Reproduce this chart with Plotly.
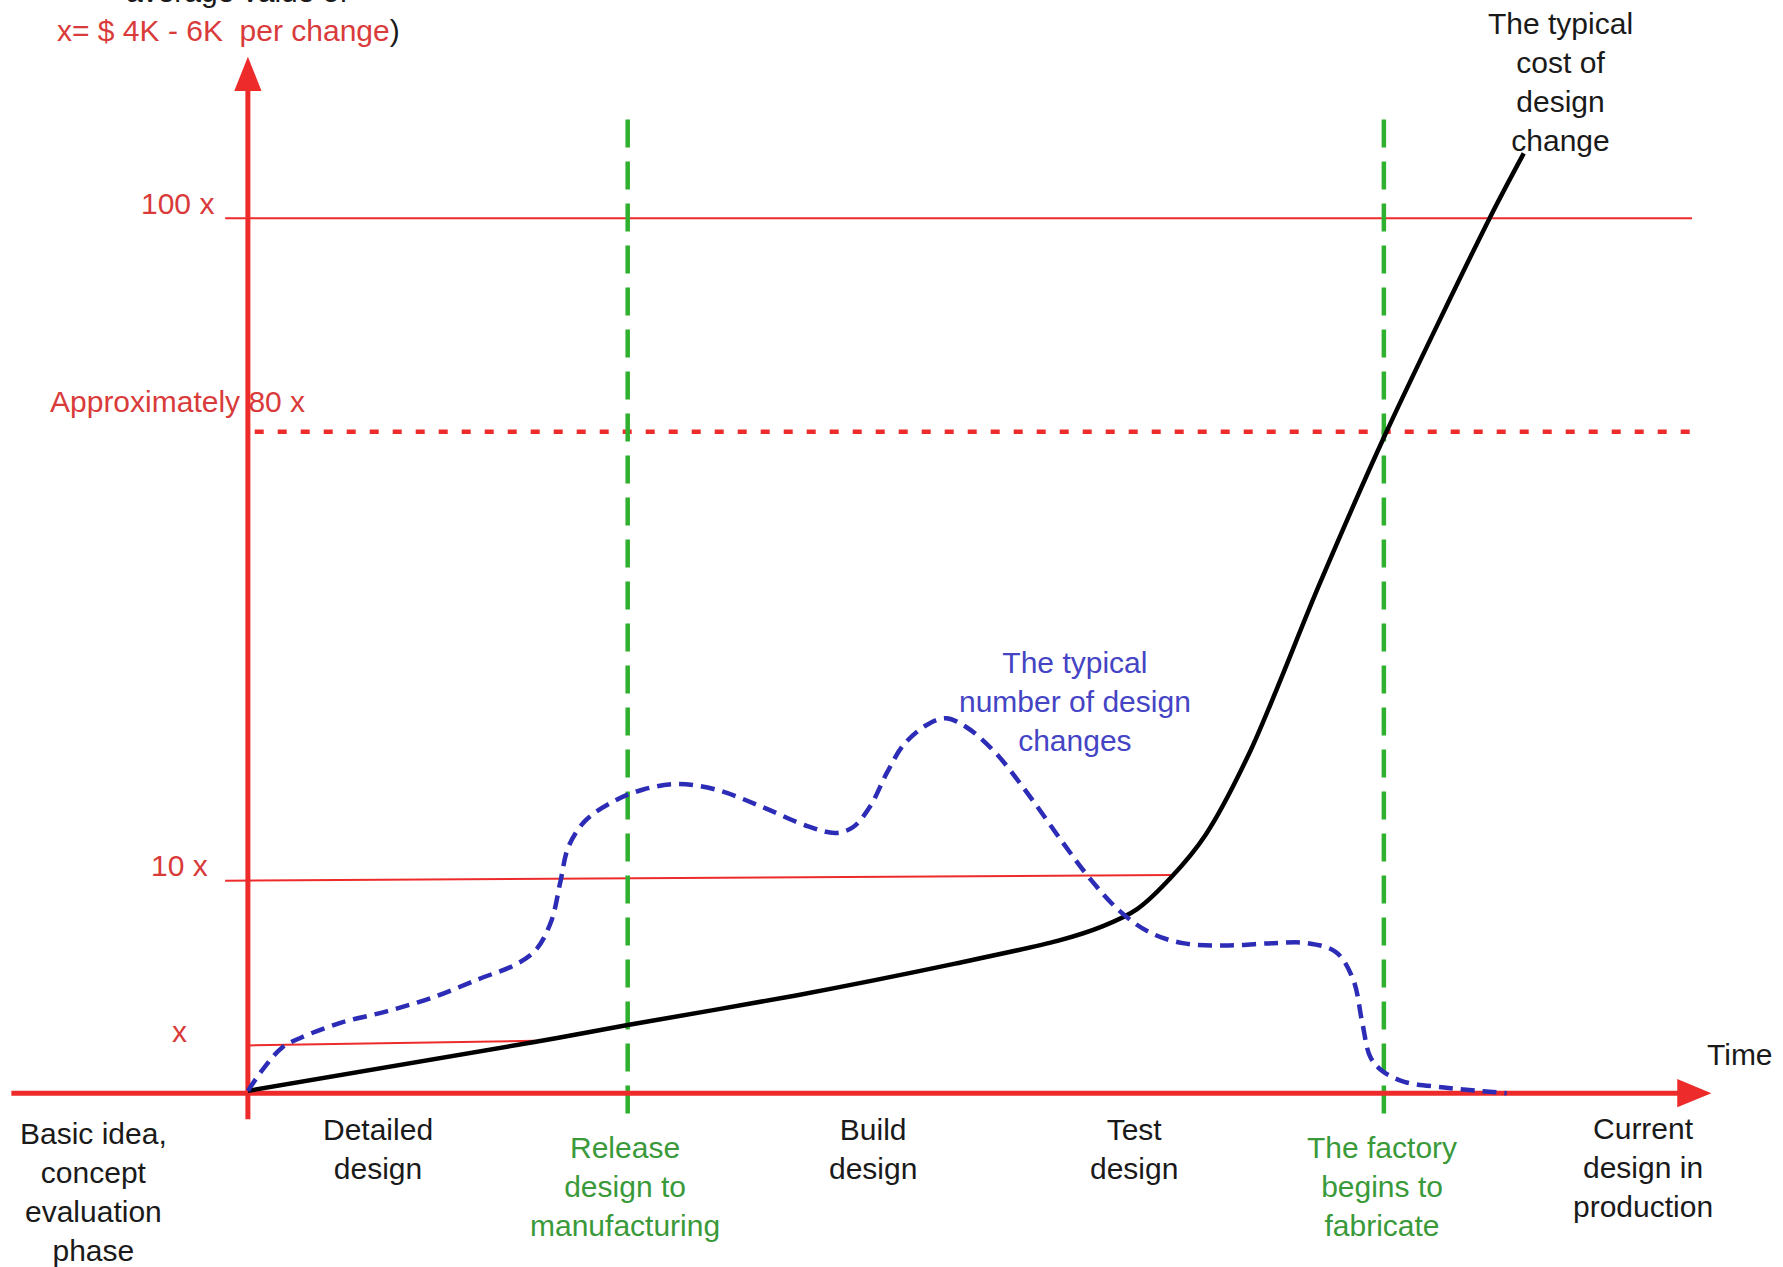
import plotly.graph_objects as go

# ---------------- data (schematic units: time t, height v) ----------------
# Typical cost of design change (black curve)
cost_t = [0, 25.2, 33.4, 48.2, 62.2, 71.2, 75.2, 78.2, 81.2, 84.2, 88.2, 94.2, 99.9, 109.2, 112.2]
cost_v = [0.2, 4.5, 6.0, 8.6, 11.4, 13.4, 14.7, 16.2, 19.0, 22.7, 30.2, 44.7, 57.7, 77.0, 82.7]

# Typical number of design changes (blue dashed curve)
changes_t = [0, 1.4, 3.0, 4.7, 8.2, 12.2, 16.2, 20.2, 23.7, 25.4, 26.7, 27.5, 28.2, 29.7, 32.2,
             34.7, 37.7, 41.2, 45.2, 49.2, 51.7, 53.2, 54.7, 56.2, 57.7, 59.7, 61.4, 63.2, 65.7,
             68.7, 71.7, 74.2, 76.7, 79.2, 82.2, 86.2, 90.2, 93.2, 95.7, 97.2, 98.0, 98.7, 99.7,
             101.7, 105.2, 108.2, 110.7]
changes_v = [0.2, 2.2, 4.0, 4.9, 6.2, 7.2, 8.4, 10.0, 11.4, 12.7, 15.2, 18.7, 21.7, 24.0, 25.7,
             26.7, 27.2, 26.7, 25.2, 23.5, 22.9, 23.4, 25.2, 28.2, 30.7, 32.4, 33.0, 32.2, 30.0,
             26.2, 22.0, 18.7, 16.0, 14.2, 13.2, 13.0, 13.2, 13.2, 12.4, 10.0, 6.2, 3.2, 2.0,
             1.0, 0.5, 0.2, 0.0]

# Cost reference levels
level_labels = ["100 x", "10 x", "x"]
level_v_start = [77.0, 18.7, 4.2]
level_v_end = [77.0, 19.2, 4.6]
level_t_start = [-2.0, -2.0, 0.0]
level_t_end = [127.0, 81.2, 25.2]
level_label_t = [-2.8, -3.3, -6.0]
level_label_v = [78.3, 20.0, 5.4]

approx_label = "Approximately 80 x"
approx_v = 58.2

# Milestones (green dashed verticals)
milestone_t = [33.4, 99.9]
milestone_labels = ["Release<br>design to<br>manufacturing", "The factory<br>begins to<br>fabricate"]

# Phase labels under the time axis
phase_labels = ["Basic idea,<br>concept<br>evaluation<br>phase", "Detailed<br>design",
                "Build<br>design", "Test<br>design", "Current<br>design in<br>production"]
phase_t = [-13.6, 11.4, 55.0, 77.9, 122.7]
phase_v = [-8.7, -4.95, -4.95, -4.95, -6.55]

# ---------------- styling ----------------
RED = "#ee2b2b"
RED_TXT = "#d93b3b"
GREEN = "#2fb02f"
GREEN_TXT = "#3a9a3a"
BLUE = "#2c2cb6"
BLUE_TXT = "#4444c4"
FONT = "Liberation Sans, Arial, Helvetica, sans-serif"
FS = 30

X_MIN, X_MAX = -21.8, 135.0
Y_MIN, Y_MAX = -15.3, 96.2

fig = go.Figure()

# thin red level lines
for vs, ve, ts, te in zip(level_v_start, level_v_end, level_t_start, level_t_end):
    fig.add_trace(go.Scatter(x=[ts, te], y=[vs, ve], mode="lines",
                             line=dict(color=RED, width=2), hoverinfo="skip"))

# dotted 80x line
fig.add_trace(go.Scatter(x=[0.6, 127.0], y=[approx_v, approx_v], mode="lines",
                         line=dict(color=RED, width=4.5, dash="9px,14px"), hoverinfo="skip"))

# green milestone lines
for t in milestone_t:
    fig.add_trace(go.Scatter(x=[t, t], y=[-1.8, 85.7], mode="lines",
                             line=dict(color=GREEN, width=4.5, dash="28px,14px"), hoverinfo="skip"))

# axes
fig.add_trace(go.Scatter(x=[-20.8, 126.0], y=[0, 0], mode="lines",
                         line=dict(color=RED, width=5), hoverinfo="skip"))
fig.add_trace(go.Scatter(x=[0, 0], y=[-2.3, 88.5], mode="lines",
                         line=dict(color=RED, width=5), hoverinfo="skip"))

# cost curve
fig.add_trace(go.Scatter(x=cost_t, y=cost_v, mode="lines",
                         line=dict(color="black", width=4.5, shape="spline", smoothing=0.8),
                         hoverinfo="skip"))

# number of changes curve
fig.add_trace(go.Scatter(x=changes_t, y=changes_v, mode="lines",
                         line=dict(color=BLUE, width=4.5, shape="spline", smoothing=1.0,
                                   dash="14px,8px"),
                         hoverinfo="skip"))

# arrow heads
shapes = [
    dict(type="path", xref="x", yref="y",
         path="M -1.2,88.2 L 0,91.2 L 1.2,88.2 Z", fillcolor=RED, line=dict(width=0)),
    dict(type="path", xref="x", yref="y",
         path="M 125.7,-1.25 L 128.7,0 L 125.7,1.25 Z", fillcolor=RED, line=dict(width=0)),
]

ann = []


def txt(x, y, text, color="#1a1a1a", xanchor="center", yanchor="middle"):
    ann.append(dict(x=x, y=y, xref="x", yref="y", text=text, showarrow=False,
                    xanchor=xanchor, yanchor=yanchor, align="center",
                    font=dict(family=FONT, size=FS, color=color)))


# y-axis title (top line partly cut off by the page edge)
ann.append(dict(x=-1.0, y=1.0, xref="x", yref="paper", text="average value of",
                showarrow=False, xanchor="center", yanchor="middle", yshift=9,
                font=dict(family=FONT, size=FS, color="#1a1a1a")))
txt(-17.0, 93.5, "x= $ 4K - 6K  per change<span style='color:#1a1a1a'>)</span>",
    color=RED_TXT, xanchor="left")

for lab, lt, lv in zip(level_labels, level_label_t, level_label_v):
    txt(lt, lv, lab, color=RED_TXT, xanchor="right" if lab != "x" else "center")
txt(-17.6, 60.9, approx_label, color=RED_TXT, xanchor="left")

txt(115.4, 89.0, "The typical<br>cost of<br>design<br>change")
txt(72.7, 34.5, "The typical<br>number of design<br>changes", color=BLUE_TXT)
txt(131.2, 3.4, "Time")

for lab, t, v in zip(phase_labels, phase_t, phase_v):
    txt(t, v, lab)
for lab, t in zip(milestone_labels, milestone_t):
    txt(t - 0.2, -8.2, lab, color=GREEN_TXT)

fig.update_layout(
    width=1783, height=1267,
    margin=dict(l=0, r=0, t=0, b=0),
    paper_bgcolor="white", plot_bgcolor="white",
    showlegend=False,
    xaxis=dict(range=[X_MIN, X_MAX], visible=False, fixedrange=True),
    yaxis=dict(range=[Y_MIN, Y_MAX], visible=False, fixedrange=True),
    shapes=shapes,
    annotations=ann,
)

fig.write_html("out.html", config={"displayModeBar": False},
               post_script="document.body.style.margin='0';document.body.style.overflow='hidden';")
